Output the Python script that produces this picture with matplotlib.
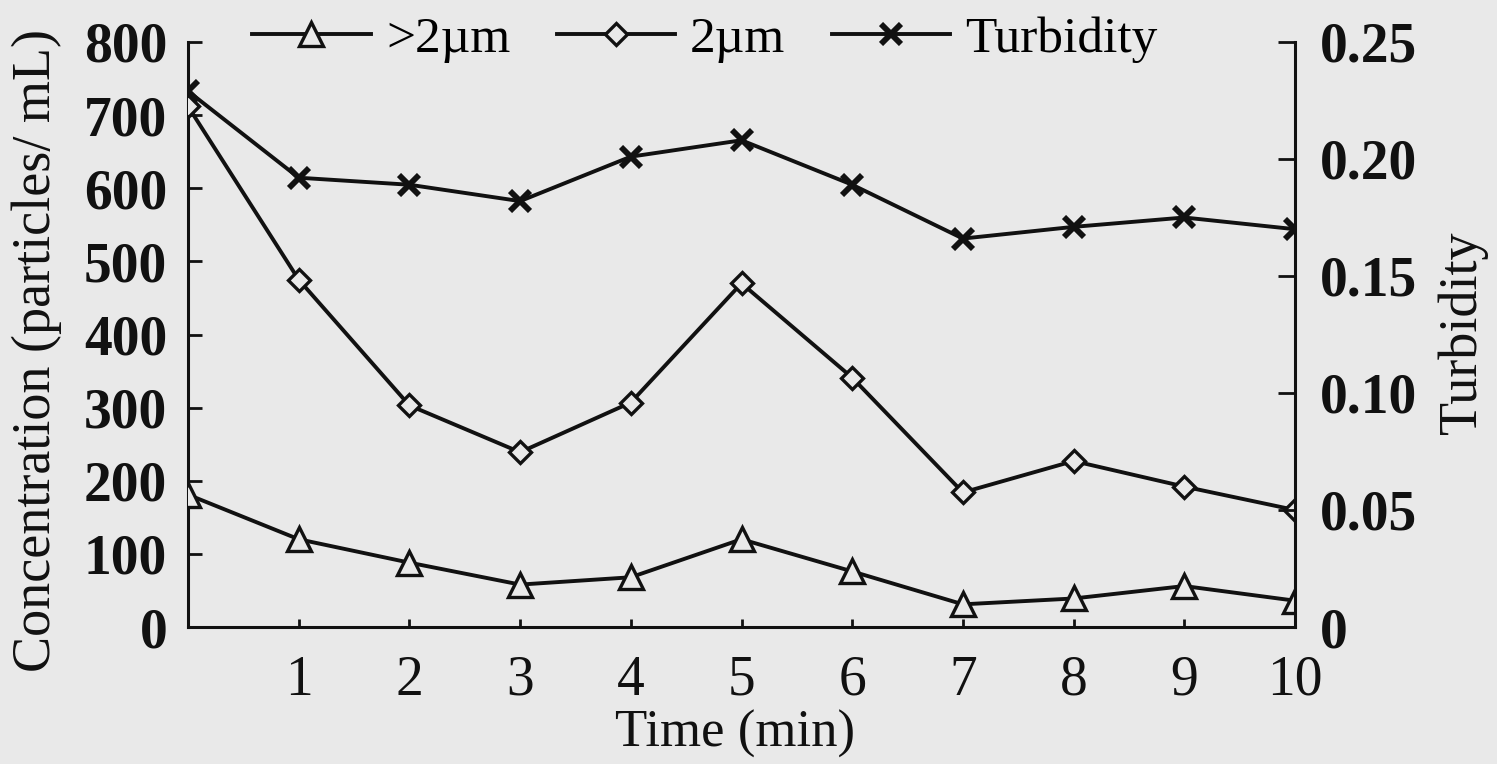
import matplotlib
matplotlib.use("Agg")
import matplotlib.pyplot as plt

plt.rcParams['font.family'] = ['Liberation Serif', 'DejaVu Serif']
plt.rcParams['mathtext.fontset'] = 'stix'

# ---- data ----
time_min = [0, 1, 2, 3, 4, 5, 6, 7, 8, 9, 10]
gt2um = [181, 120, 88, 58, 68, 120, 76, 31, 39, 56, 36]
eq2um = [712, 475, 303, 239, 307, 470, 341, 184, 227, 192, 160]
turbidity = [0.229, 0.192, 0.189, 0.182, 0.201, 0.208, 0.189, 0.166, 0.171, 0.175, 0.170]

x_ticks = [1, 2, 3, 4, 5, 6, 7, 8, 9, 10]
left_ticks = [0, 100, 200, 300, 400, 500, 600, 700, 800]
right_ticks = [0, 0.05, 0.10, 0.15, 0.20, 0.25]
right_tick_labels = ['0', '0.05', '0.10', '0.15', '0.20', '0.25']

labels = ['>2\u00b5m', '2\u00b5m', 'Turbidity']

BG = '#e9e9e9'
INK = '#111111'

W, H = 1497, 764
fig = plt.figure(figsize=(W / 100, H / 100), dpi=100, facecolor=BG)
ax = fig.add_axes([188 / W, 1 - 627 / H, (1295 - 188) / W, (627 - 42) / H])
ax.set_facecolor(BG)
ax2 = ax.twinx()

lw = 2.8
l1, = ax.plot(time_min, gt2um, color=INK, lw=lw, marker='^', ms=17, mew=2.4,
              mfc=BG, mec=INK, label=labels[0], zorder=3)
l2, = ax.plot(time_min, eq2um, color=INK, lw=lw, marker='D', ms=11.5, mew=2.4,
              mfc=BG, mec=INK, label=labels[1], zorder=3)
l3, = ax2.plot(time_min, turbidity, color=INK, lw=lw, marker='x', ms=14, mew=4.2,
               mec=INK, label=labels[2], zorder=3)

ax.set_xlim(0, 10)
ax.set_ylim(0, 800)
ax2.set_ylim(0, 0.25)

for a in (ax, ax2):
    a.spines['top'].set_visible(False)
    for s in a.spines.values():
        s.set_linewidth(2.2)
        s.set_color(INK)
ax.spines['right'].set_visible(False)
ax2.spines['left'].set_visible(False)
ax2.spines['bottom'].set_visible(False)

ax.set_xticks(x_ticks)
ax.set_xticklabels([str(t) for t in x_ticks])
ax.tick_params(axis='x', direction='in', length=6, width=2, pad=20,
               labelsize=40, colors=INK)
ax.set_yticks(left_ticks)
ax.set_yticklabels([str(t) for t in left_ticks])
ax.tick_params(axis='y', direction='in', length=10, width=2, pad=15,
               labelsize=40, colors=INK)
for t in ax.get_yticklabels():
    t.set_fontweight('bold')

ax2.set_yticks(right_ticks)
ax2.set_yticklabels(right_tick_labels)
ax2.tick_params(axis='y', direction='in', length=12, width=2, pad=18,
                labelsize=40, colors=INK)
for t in ax2.get_yticklabels():
    t.set_fontweight('bold')

ax.set_xlabel('Time (min)', fontsize=38, color=INK)
ax.xaxis.set_label_coords(0.494, -0.142)
ax.set_ylabel('Concentration (particles/ mL)', fontsize=39, color=INK)
ax.yaxis.set_label_coords(-0.114, 0.472)
ax2.set_ylabel('Turbidity', fontsize=39, color=INK)
ax2.yaxis.set_label_coords(1.129, 0.503)

fig.legend(handles=[l1, l2, l3], labels=labels, loc='center',
           bbox_to_anchor=(705 / W, 1 - 40 / H), ncol=3, frameon=False,
           fontsize=37, handlelength=2.3, handletextpad=0.3,
           columnspacing=0.9, borderaxespad=0, borderpad=0)

fig.savefig('out.png', dpi=100, facecolor=BG)
